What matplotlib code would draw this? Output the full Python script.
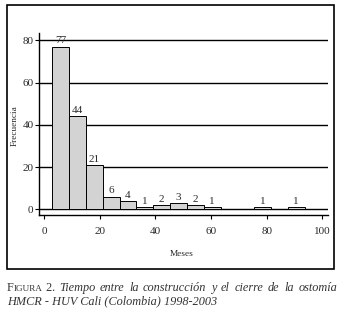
import matplotlib
matplotlib.use("Agg")
import matplotlib.pyplot as plt
from matplotlib.patches import Rectangle

# Data
bin_start = 2.9
bin_width = 6.05
counts = [77, 44, 21, 6, 4, 1, 2, 3, 2, 1, 0, 0, 1, 0, 1]
xticks = [0, 20, 40, 60, 80, 100]
yticks = [0, 20, 40, 60, 80]
xlabel = "Meses"
ylabel = "Frecuencia"
caption_prefix_big = "F"
caption_prefix_small = "IGURA"
caption_num = " 2."
caption_line1 = "Tiempo entre la construcción y el cierre de la ostomía"
caption_line2 = "HMCR - HUV Cali (Colombia) 1998-2003"

W, H = 342, 317
fig = plt.figure(figsize=(W / 100, H / 100), dpi=100)
plt.rcParams['font.family'] = ['Liberation Serif', 'DejaVu Serif']

tc = '#2a2a2a'
ax = fig.add_axes([39 / W, 1 - 215 / H, (328 - 39) / W, (215 - 33) / H])
ax.set_xlim(-1.9, 102.05)
ax.set_ylim(-2.7, 83.5)

lefts = [bin_start + i * bin_width for i in range(len(counts))]
for y in yticks:
    ax.axhline(y, color='black', lw=1.0, zorder=1)
bars = ax.bar(lefts, counts, width=bin_width, align='edge', color='#d3d3d3',
              edgecolor='black', linewidth=0.7, zorder=2)
for l, c in zip(lefts, counts):
    if c > 0:
        ax.text(l + bin_width / 2, c + 0.6, str(c), ha='center', va='bottom',
                fontsize=8, color=tc, zorder=3)

for s in ['top', 'right']:
    ax.spines[s].set_visible(False)
ax.spines['left'].set_linewidth(1.0)
ax.spines['bottom'].set_linewidth(1.0)
ax.set_xticks(xticks)
ax.set_yticks(yticks)
ax.tick_params(axis='both', labelsize=8, labelcolor=tc, length=3, width=0.8,
               direction='out', pad=1)
ax.tick_params(axis='x', pad=6)

fig.text(15 / W, 1 - 126 / H, ylabel, rotation=90, ha='center', va='center',
         fontsize=6.7, color=tc)
fig.text(182 / W, 1 - 254 / H, xlabel, ha='center', va='center',
         fontsize=6.7, color=tc)

# Border box
fig.patches.append(Rectangle((7 / W, 1 - 269 / H), (334 - 7) / W, (269 - 5) / H,
                             transform=fig.transFigure, fill=False,
                             edgecolor='black', lw=1.2))

# Caption
renderer = fig.canvas.get_renderer()
cc = '#333333'
fs = 8.8
x = 7
y1 = 1 - 291 / H
parts = [(caption_prefix_big, fs, 'normal'), (caption_prefix_small, fs * 0.75, 'normal'),
         (caption_num, fs, 'normal')]
for txt, size, style in parts:
    t = fig.text(x / W, y1, txt, fontsize=size, style=style, color=cc,
                 ha='left', va='baseline')
    bb = t.get_window_extent(renderer)
    x += bb.width
# justified italic words
x_start = x + 4
x_end = 337
words = caption_line1.split()
texts = []
widths = []
for w in words:
    t = fig.text(0, y1, w, fontsize=fs, style='italic', color=cc,
                 ha='left', va='baseline')
    texts.append(t)
    widths.append(t.get_window_extent(renderer).width)
gap = (x_end - x_start - sum(widths)) / (len(words) - 1)
x = x_start
for t, wdt in zip(texts, widths):
    t.set_x(x / W)
    x += wdt + gap
fig.text(7 / W, 1 - 304 / H, caption_line2, fontsize=fs, style='italic',
         color=cc, ha='left', va='baseline')

fig.savefig('out.png', dpi=100)
